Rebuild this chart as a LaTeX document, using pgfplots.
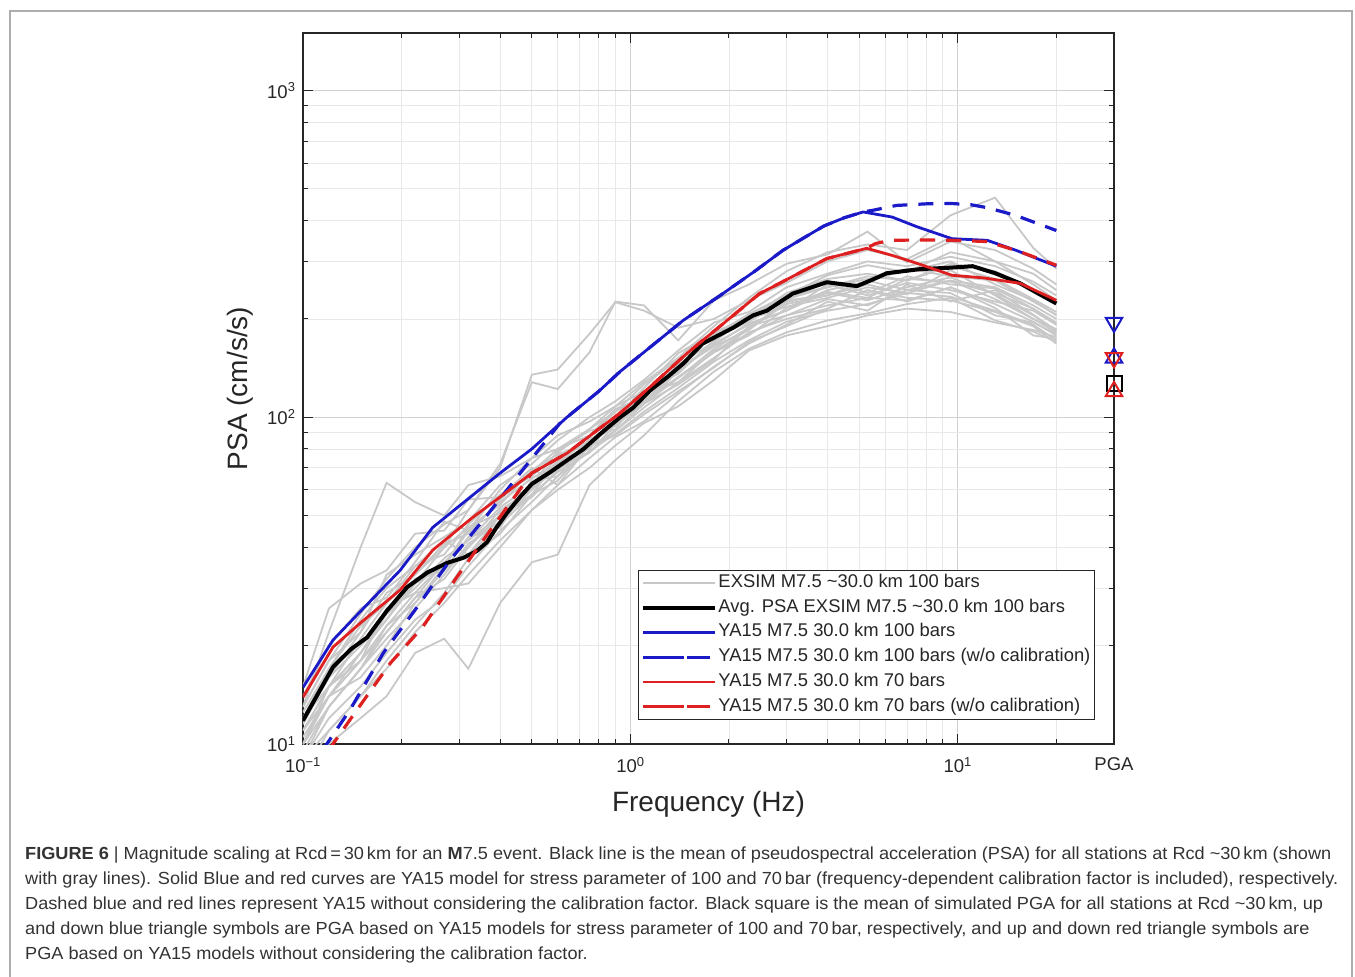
\documentclass[border=0pt]{standalone}
\usepackage{pgfplots}
\pgfplotsset{compat=1.18}
\usepackage{pgfplotstable}
\usepackage{fontspec}
\setmainfont{Liberation Sans}
\newfontfamily\capfont[FakeStretch=1.037]{Liberation Sans}
\definecolor{axc}{HTML}{262626}
\definecolor{mblue}{HTML}{1A1AC8}
\definecolor{mred}{HTML}{DE2020}
\definecolor{mgray}{HTML}{C8C8C8}
\definecolor{capc}{HTML}{333333}
\pgfplotsset{dashlegend/.style={legend image code/.code={\path (0pt,0pt) -- (72pt,0pt);\draw[##1, dash pattern=on 17pt off 18pt] (9pt,0pt) -- (66pt,0pt);}}}

\pgfplotstableread{
f g1 g2 g3 g4 g5 g6 g7 g8 g9 g10 g11 g12 g13 g14 g15 g16 g17 g18 g19 g20 g21 g22 g23 g24
0.1 13 15 12 10 9 11 8.5 12.5 10.5 14 9.5 11 10 13 9 12 10 11.5 9 12 8 13 10 11
0.12 22 26 15 13 12 14 10 17 14 20 13 15 14 18 11 16 15 16 13 17 11 18 14 15
0.15 40 31 19 17 15 18 12 24 16 26 17 21 19 25 14 22 18 20 17 23 14 22 18 19
0.18 63 34 24 21 19 23 14 30 20 28 22 27 25 32 17 33 26 24 23 27 18 29 22 25
0.22 55 44 31 26 24 29 19 35 27 36 28 33 30 40 22 38 29 32 27 35 23 33 28 31
0.27 50 45 40 33 28 30 21 42 35 48 32 40 37 47 27 43 36 34 34 38 29 41 36 35
0.32 62 56 52 41 35 31 17 38 45 45 40 46 42 52 33 48 38 43 40 47 37 44 42 46
0.4 66 57 70 48 45 40 27 47 55 60 50 54 50 72 42 62 50 46 52 58 44 56 53 51
0.5 75 70 135 60 55 52 36 58 65 75 62 69 57 128 52 72 58 64 60 66 58 68 62 61
0.6 80 62 140 74 66 62 38 68 72 88 79 77 69 122 60 85 74 66 70 78 64 80 73 76
0.75 92 82 180 88 79 75 62 78 88 97 91 84 81 158 70 100 80 86 78 92 82 88 85 83
0.9 108 96 225 99 89 87 74 91 104 108 94 99 91 226 82 112 100 92 95 104 88 106 97 98
1.1 120 110 212 118 104 97 88 110 117 128 111 123 107 220 96 130 112 120 110 126 102 115 114 119
1.4 148 132 188 128 123 118 112 138 143 152 133 157 128 172 108 160 140 136 126 150 120 145 132 141
1.8 180 158 200 160 148 143 138 168 178 190 158 182 152 228 130 195 165 172 150 175 142 170 162 166
2.3 205 186 228 180 172 168 162 192 207 232 178 202 182 255 160 210 185 200 190 196 170 205 188 194
3 235 228 258 205 196 192 182 212 236 280 216 240 200 295 178 250 225 218 205 230 190 228 222 212
4 250 236 300 220 212 226 198 242 272 320 245 265 215 315 190 275 240 232 230 250 215 262 236 255
5.3 270 262 325 232 222 212 208 232 292 338 260 275 245 370 205 300 228 250 220 265 245 240 255 236
7 262 245 305 228 240 255 222 265 278 325 285 262 226 298 215 290 250 240 245 280 232 270 238 258
9.5 290 262 355 250 234 226 232 260 320 415 270 295 250 345 210 310 268 262 240 300 228 255 282 245
13 265 250 300 222 212 245 198 240 300 470 262 280 216 325 195 290 238 230 205 255 210 248 236 226
17 230 220 275 196 192 206 183 215 255 330 226 246 178 285 185 260 205 200 195 228 190 215 200 212
20 210 200 245 178 172 184 170 192 228 285 206 222 174 255 176 236 185 182 180 205 168 195 186 192
}\graytab

\pgfplotstableread{
f y
0.1 11.8
0.11 14.0
0.1235 17.2
0.14 19.5
0.157 21.2
0.18 25.5
0.208 30.2
0.24 33.5
0.275 35.8
0.31 37.2
0.34 39
0.365 41.5
0.39 46
0.42 51
0.46 57
0.50 62.5
0.57 68
0.64 73.8
0.72 80
0.81 89
0.93 100
1.02 107
1.15 121
1.3 133
1.45 146
1.66 168
2.06 188
2.37 205
2.61 212
3.13 239
3.5 248
3.98 259
4.5 255
4.92 252
5.5 264
6.07 276
7.65 284
9.5 287
11.1 290
13 276
15.5 257
17.5 240
20 223
}\blacktab

\pgfplotstableread{
f y
0.1 14.9
0.1235 20.8
0.15 25.5
0.198 34
0.249 46
0.3 53.5
0.4 67.5
0.5 80
0.64 100
0.8 120
0.93 138
1.15 164
1.45 198
1.87 235
2.4 280
2.92 324
3.4 355
3.9 385
4.5 408
5.14 425
6.3 410
7.5 383
9.6 352
12.3 348
15.1 324
20 290
}\bluetab

\pgfplotstableread{
f y
0.115 9.6
0.139 12.7
0.176 19
0.223 26.2
0.281 36.5
0.355 48.4
0.45 65.5
0.62 98
0.64 100
0.8 120
0.93 138
1.15 164
1.45 198
1.87 235
2.4 280
2.92 324
3.4 355
3.9 385
4.5 408
5.14 425
5.5 430
6.5 445
8 450
9.6 451
11 447
12.3 438
15 415
20 373
}\bluedtab

\pgfplotstableread{
f y
0.1 13.9
0.1235 19.8
0.15 23.5
0.198 29.6
0.249 39.2
0.33 49.4
0.4 57
0.5 67.5
0.64 77.6
0.8 92
0.93 103
1.15 124
1.49 157
2.0 200
2.48 239
2.92 260
3.98 306
5.27 329
6.3 313
7.5 296
9.6 272
12 267
15.5 257
20 228
}\redtab

\pgfplotstableread{
f y
0.12 9.6
0.146 12.7
0.185 17.7
0.232 22.8
0.295 32.4
0.373 45
0.5 67.5
0.64 77.6
0.8 92
0.93 103
1.15 124
1.49 157
2.0 200
2.48 239
2.92 260
3.98 306
5.27 329
5.6 340
6.2 348
8 349
9.6 348
12.3 345
15.5 321
20 292
}\reddtab

\begin{document}
\begin{tikzpicture}[x=1pt,y=1pt]
\useasboundingbox (0,0) rectangle (1355,-977);
\draw[color=black!32, line width=2pt] (10,-980) -- (10,-11) -- (1352,-11) -- (1352,-980);
\begin{axis}[
  at={(303pt,-744pt)}, anchor=south west,
  width=811pt, height=711pt, scale only axis,
  xmode=log, ymode=log,
  xmin=0.1, xmax=30, ymin=10, ymax=1500,
  axis line style={axc, line width=1.3pt},
  tick style={axc, line width=1pt},
  major tick length=10pt, minor tick length=5pt,
  tick align=inside,
  xtick={0.1,1,10,30},
  xticklabels={10\textsuperscript{−1},10\textsuperscript{0},10\textsuperscript{1},PGA},
  minor xtick={0.2,0.3,0.4,0.5,0.6,0.7,0.8,0.9,2,3,4,5,6,7,8,9,20},
  ytick={10,100,1000},
  yticklabels={10\textsuperscript{1},10\textsuperscript{2},10\textsuperscript{3}},
  minor ytick={20,30,40,50,60,70,80,90,200,300,400,500,600,700,800,900},
  grid=both,
  major grid style={black!18, line width=0.8pt},
  minor grid style={black!9, line width=0.8pt},
  tick label style={font=\fontsize{18.5}{20}\selectfont, text=axc},
  xticklabel style={yshift=-10pt},
  yticklabel style={xshift=-4pt},
  xlabel={Frequency (Hz)}, ylabel={PSA (cm/s/s)},
  label style={font=\fontsize{28}{30}\selectfont, text=axc},
  xlabel style={at={(axis description cs:0.5,-0.085)}, anchor=center},
  ylabel style={at={(axis description cs:-0.0777,0.5)}, anchor=center},
  legend style={at={(rel axis cs:0.9766,0.0338)}, anchor=south east,
    draw=axc, line width=1.2pt, fill=white,
    font=\fontsize{18.4}{20}\selectfont, text=axc,
    cells={anchor=west}, inner sep=3pt, row sep=5.8pt,
    nodes={inner sep=1pt, text height=13pt, text depth=4pt}},
  legend image code/.code={\path (0pt,0pt) -- (72pt,0pt);\draw[#1] (9pt,0pt) -- (66pt,0pt);},
]
\addplot[mgray, line width=1.8pt] table[x=f,y=g1] {\graytab};
\addlegendentry{EXSIM M7.5 \textasciitilde30.0 km 100 bars}
\pgfplotsinvokeforeach{g2,g3,g4,g5,g6,g7,g8,g9,g10,g11,g12,g13,g14,g15,g16,g17,g18,g19,g20,g21,g22,g23,g24}{
\addplot[mgray, line width=1.8pt, forget plot] table[x=f,y=#1] {\graytab};
}
\addplot[black, line width=4pt, line join=round] table[x=f,y=y] {\blacktab};
\addlegendentry{Avg. PSA EXSIM M7.5 \textasciitilde30.0 km 100 bars}
\addplot[mblue, line width=2.8pt, line join=round] table[x=f,y=y] {\bluetab};
\addlegendentry{YA15 M7.5 30.0 km 100 bars}
\addplot[mblue, line width=3.2pt, dash pattern=on 15pt off 11pt, dashlegend] table[x=f,y=y] {\bluedtab};
\addlegendentry{YA15 M7.5 30.0 km 100 bars (w/o calibration)}
\addplot[mred, line width=2.8pt, line join=round] table[x=f,y=y] {\redtab};
\addlegendentry{YA15 M7.5 30.0 km 70 bars}
\addplot[mred, line width=3.2pt, dash pattern=on 15pt off 11pt, dashlegend] table[x=f,y=y] {\reddtab};
\addlegendentry{YA15 M7.5 30.0 km 70 bars (w/o calibration)}
% PGA markers
\addplot[only marks, mblue, mark=triangle, mark size=9.5pt, mark options={rotate=180, line width=2pt}, forget plot] coordinates {(30,195)};
\addplot[only marks, mblue, mark=triangle, mark size=9.5pt, mark options={line width=2pt}, forget plot] coordinates {(30,152)};
\addplot[only marks, mred, mark=triangle, mark size=9.5pt, mark options={rotate=180, line width=2pt}, forget plot] coordinates {(30,152)};
\addplot[only marks, black, mark=square, mark size=7.5pt, mark options={line width=2pt}, forget plot] coordinates {(30,127)};
\addplot[only marks, mred, mark=triangle, mark size=9.5pt, mark options={line width=2pt}, forget plot] coordinates {(30,120)};
\end{axis}
\node[anchor=north west, align=left, inner sep=0pt, text=capc,
  font=\capfont\fontsize{17.5}{25}\selectfont] at (25pt,-847pt) {%
\textbf{FIGURE 6} | Magnitude scaling at Rcd\,=\,30\,km for an \textbf{M}7.5 event. Black line is the mean of pseudospectral acceleration (PSA) for all stations at Rcd \textasciitilde30\,km (shown\\
with gray lines). Solid Blue and red curves are YA15 model for stress parameter of 100 and 70\,bar (frequency-dependent calibration factor is included), respectively.\\
Dashed blue and red lines represent YA15 without considering the calibration factor. Black square is the mean of simulated PGA for all stations at Rcd \textasciitilde30\,km, up\\
and down blue triangle symbols are PGA based on YA15 models for stress parameter of 100 and 70\,bar, respectively, and up and down red triangle symbols are\\
PGA based on YA15 models without considering the calibration factor.};
\end{tikzpicture}
\end{document}
